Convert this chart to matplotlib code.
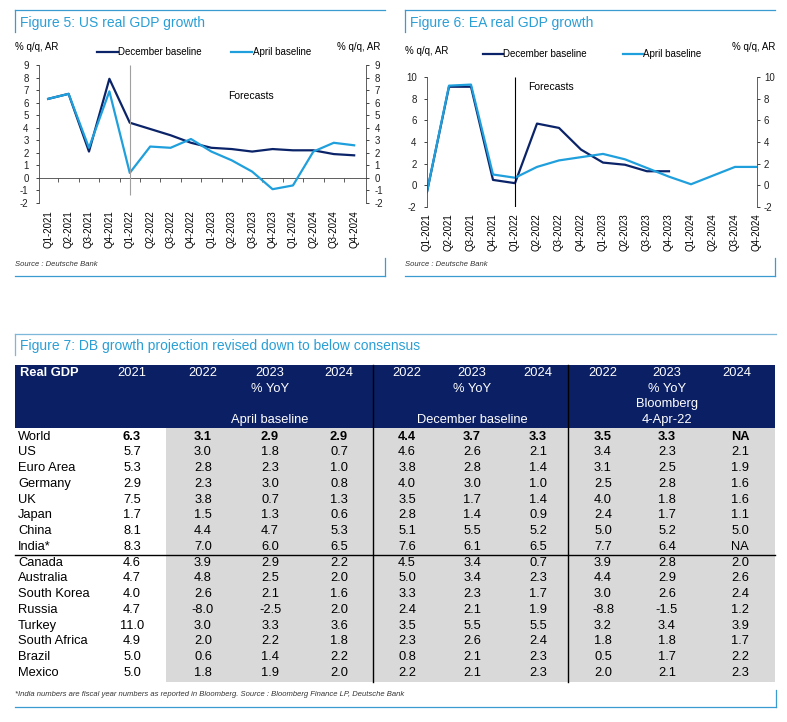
import numpy as np
import matplotlib
matplotlib.use('Agg')
import matplotlib.pyplot as plt
from matplotlib.patches import Rectangle
from matplotlib.lines import Line2D

plt.rcParams['font.family'] = ['Liberation Sans', 'DejaVu Sans']
plt.rcParams['axes.unicode_minus'] = False

# --- chart data ---
quarters = [f'Q{q}-{y}' for y in (2021, 2022, 2023, 2024) for q in (1, 2, 3, 4)]
us_dec = [6.3, 6.7, 2.1, 7.9, 4.4, 3.9, 3.4, 2.8, 2.4, 2.3, 2.1, 2.3, 2.2, 2.2, 1.9, 1.8]
us_apr = [6.3, 6.7, 2.4, 6.9, 0.4, 2.5, 2.4, 3.1, 2.1, 1.4, 0.5, -0.9, -0.6, 2.1, 2.8, 2.6]
ea_dec = [-0.6, 9.1, 9.1, 0.5, 0.2, 5.7, 5.3, 3.3, 2.1, 1.9, 1.3, 1.3,
          np.nan, np.nan, np.nan, np.nan]
ea_apr = [-0.6, 9.2, 9.3, 1.0, 0.7, 1.7, 2.3, 2.6, 2.9, 2.4, 1.6, 0.8, 0.1, 0.9, 1.7, 1.7]
forecast_start = 'Q1-2022'

# --- table data ---
countries = ['World', 'US', 'Euro Area', 'Germany', 'UK', 'Japan', 'China', 'India*',
             'Canada', 'Australia', 'South Korea', 'Russia', 'Turkey', 'South Africa',
             'Brazil', 'Mexico']
gdp_2021 = [6.3, 5.7, 5.3, 2.9, 7.5, 1.7, 8.1, 8.3, 4.6, 4.7, 4.0, 4.7, 11.0, 4.9, 5.0, 5.0]
april = [[3.1, 2.9, 2.9], [3.0, 1.8, 0.7], [2.8, 2.3, 1.0], [2.3, 3.0, 0.8],
         [3.8, 0.7, 1.3], [1.5, 1.3, 0.6], [4.4, 4.7, 5.3], [7.0, 6.0, 6.5],
         [3.9, 2.9, 2.2], [4.8, 2.5, 2.0], [2.6, 2.1, 1.6], [-8.0, -2.5, 2.0],
         [3.0, 3.3, 3.6], [2.0, 2.2, 1.8], [0.6, 1.4, 2.2], [1.8, 1.9, 2.0]]
december = [[4.4, 3.7, 3.3], [4.6, 2.6, 2.1], [3.8, 2.8, 1.4], [4.0, 3.0, 1.0],
            [3.5, 1.7, 1.4], [2.8, 1.4, 0.9], [5.1, 5.5, 5.2], [7.6, 6.1, 6.5],
            [4.5, 3.4, 0.7], [5.0, 3.4, 2.3], [3.3, 2.3, 1.7], [2.4, 2.1, 1.9],
            [3.5, 5.5, 5.5], [2.3, 2.6, 2.4], [0.8, 2.1, 2.3], [2.2, 2.1, 2.3]]
bloomberg = [[3.5, 3.3, None], [3.4, 2.3, 2.1], [3.1, 2.5, 1.9], [2.5, 2.8, 1.6],
             [4.0, 1.8, 1.6], [2.4, 1.7, 1.1], [5.0, 5.2, 5.0], [7.7, 6.4, None],
             [3.9, 2.8, 2.0], [4.4, 2.9, 2.6], [3.0, 2.6, 2.4], [-8.8, -1.5, 1.2],
             [3.2, 3.4, 3.9], [1.8, 1.8, 1.7], [0.5, 1.7, 2.2], [2.0, 2.1, 2.3]]
years = ['2022', '2023', '2024']

NAVY = '#0b2469'
LIGHT = '#1f9fdc'
TITLE = '#2a9fd6'
FRAME = '#3a9bd0'
HEADER = '#0b1f64'
GREY = '#d9d9d9'

W, H = 787, 722
fig = plt.figure(figsize=(W / 100, H / 100), dpi=100)

# overlay in pixel coords for frames, titles and the table
ov = fig.add_axes([0, 0, 1, 1])
ov.set_xlim(0, W)
ov.set_ylim(H, 0)
ov.axis('off')


def box(left, top, right, bottom):
    return [left / W, 1 - bottom / H, (right - left) / W, (bottom - top) / H]


def frame(x0, x1, top, bottom, lead=22, tail=18, top_color=FRAME):
    ov.plot([x0, x1], [top, top], color=top_color, lw=0.9)
    ov.plot([x0, x0], [top, top + lead], color=top_color, lw=0.9)
    ov.plot([x0, x1], [bottom, bottom], color=FRAME, lw=0.9)
    ov.plot([x1, x1], [bottom - tail, bottom], color=FRAME, lw=0.9)


def line_chart(rect, xlim, ylim, yticks, dec, apr, lpad, rpad, xpad):
    ax = fig.add_axes(rect)
    x = np.arange(len(quarters))
    ax.plot(x, dec, color=NAVY, lw=1.6)
    ax.plot(x, apr, color=LIGHT, lw=1.6)
    ax.set_xlim(*xlim)
    ax.set_ylim(*ylim)
    ax.set_yticks(yticks)
    ax.set_xticks(x)
    ax.set_xticklabels(quarters, rotation=90)
    ax.tick_params(axis='x', length=0, labelsize=7, pad=xpad)
    ax.tick_params(axis='y', direction='out', length=2.5, width=0.6, labelsize=7,
                   pad=lpad, colors='#222222')
    for s in ('top', 'bottom', 'right'):
        ax.spines[s].set_visible(False)
    ax.spines['left'].set_linewidth(0.6)
    ax.spines['left'].set_color('#444444')
    ax.patch.set_alpha(0)
    ax2 = ax.twinx()
    ax2.set_ylim(*ylim)
    ax2.set_yticks(yticks)
    ax2.tick_params(axis='y', direction='out', length=2.5, width=0.6, labelsize=7,
                    pad=rpad, colors='#222222')
    for s in ('top', 'bottom', 'left'):
        ax2.spines[s].set_visible(False)
    ax2.spines['right'].set_linewidth(0.6)
    ax2.spines['right'].set_color('#444444')
    return ax


fi = quarters.index(forecast_start)

# ---------------- Figure 5 ----------------
frame(15, 385, 10, 276)
ov.text(20, 23, 'Figure 5: US real GDP growth', color=TITLE, fontsize=10, va='center')
ax_us = line_chart(box(39, 65, 366, 203), (-0.45, 15.58), (-2, 9), range(-2, 10),
                   us_dec, us_apr, 5, 3.5, 5)
zero = ax_us.secondary_xaxis((0 - -2) / 11)
zero.set_xticks(np.arange(0.5, 15, 1))
zero.set_xticklabels([])
zero.tick_params(direction='out', length=3, width=0.6, color='#444444')
zero.spines['bottom'].set_linewidth(0.6)
zero.spines['bottom'].set_color('#444444')
ax_us.vlines(fi, -1.4, 9, color='#a0a0a0', lw=0.8)
ax_us.text(8.8, 6.5, 'Forecasts', fontsize=7.5, va='center')
ov.text(15, 47, '% q/q, AR', fontsize=7, va='center')
ov.text(380, 47, '% q/q, AR', fontsize=7, va='center', ha='right')
ov.text(15, 264, 'Source : Deutsche Bank', fontsize=5.5, style='italic',
        color='#333333', va='center')
handles = [Line2D([], [], color=NAVY, lw=1.6, label='December baseline'),
           Line2D([], [], color=LIGHT, lw=1.6, label='April baseline')]
fig.legend(handles=handles, loc='center left', bbox_to_anchor=(97 / W, 1 - 52 / H),
           ncol=2, frameon=False, fontsize=7, handlelength=2.15, handletextpad=0.05,
           columnspacing=3.0, borderpad=0, borderaxespad=0)

# ---------------- Figure 6 ----------------
frame(405, 775, 10, 276)
ov.text(410, 23, 'Figure 6: EA real GDP growth', color=TITLE, fontsize=10, va='center')
ax_ea = line_chart(box(427, 77, 757, 207), (0, 15), (-2, 10), range(-2, 11, 2),
                   ea_dec, ea_apr, 5, 2.5, 4.3)
ax_ea.vlines(fi, -2, 10, color='black', lw=0.8)
ax_ea.text(4.6, 9.1, 'Forecasts', fontsize=7.5, va='center')
ov.text(405, 51, '% q/q, AR', fontsize=7, va='center')
ov.text(775, 47, '% q/q, AR', fontsize=7, va='center', ha='right')
ov.text(405, 264, 'Source : Deutsche Bank', fontsize=5.5, style='italic',
        color='#333333', va='center')
fig.legend(handles=handles, loc='center left', bbox_to_anchor=(483 / W, 1 - 54 / H),
           ncol=2, frameon=False, fontsize=7, handlelength=2.05, handletextpad=0.05,
           columnspacing=3.7, borderpad=0, borderaxespad=0)

# ---------------- Figure 7 (table) ----------------
frame(15, 776, 334, 707, lead=21, tail=17, top_color='#7db7da')
ov.text(20, 346, 'Figure 7: DB growth projection revised down to below consensus',
        color=TITLE, fontsize=10, va='center')

tbl_l, tbl_r = 15, 775
head_top, head_bot = 365, 428
row0, row_h = 437, 15.75
tbl_bot = row0 + (len(countries) - 0.5) * row_h + 1
ov.add_patch(Rectangle((tbl_l, head_top), tbl_r - tbl_l, head_bot - head_top,
                       color=HEADER, lw=0))
ov.add_patch(Rectangle((166, head_bot), tbl_r - 166, tbl_bot - head_bot,
                       color=GREY, lw=0))
for xd in (373, 568):
    ov.plot([xd, xd], [head_top, tbl_bot], color='black', lw=1)
ov.plot([tbl_l, tbl_r], [row0 + 7.5 * row_h] * 2, color='black', lw=1)

fs = 9.3
VA = 'center_baseline'
dy = -1.8  # center_baseline sits a little low; nudge text up
groups = [(april, [203, 270, 339], 'April baseline', []),
          (december, [407, 472, 538], 'December baseline', []),
          (bloomberg, [603, 667, 740], '4-Apr-22', ['Bloomberg'])]

ov.text(20, 373 + dy, 'Real GDP', color='white', fontsize=fs, fontweight='bold', va=VA)
ov.text(132, 373 + dy, '2021', color='white', fontsize=fs, va=VA, ha='center')
for vals, xs, base, extra in groups:
    for yr, xc in zip(years, xs):
        ov.text(xc if yr != '2024' or base != '4-Apr-22' else 737, 373 + dy, yr,
                color='white', fontsize=fs, va=VA, ha='center')
    ov.text(xs[1], 389 + dy, '% YoY', color='white', fontsize=fs, va=VA, ha='center')
    for e in extra:
        ov.text(xs[1], 404 + dy, e, color='white', fontsize=fs, va=VA, ha='center')
    ov.text(xs[1], 420 + dy, base, color='white', fontsize=fs, va=VA, ha='center')


def fmt(v):
    return 'NA' if v is None else f'{v:.1f}'


for i, c in enumerate(countries):
    y = row0 + i * row_h + dy
    w = 'bold' if c == 'World' else 'normal'
    ov.text(18, y, c, fontsize=fs, va=VA)
    ov.text(132, y, fmt(gdp_2021[i]), fontsize=fs, va=VA, ha='center', fontweight=w)
    for vals, xs, _, _ in groups:
        for v, xc in zip(vals[i], xs):
            ov.text(xc, y, fmt(v), fontsize=fs, va=VA, ha='center', fontweight=w)

ov.text(15, 695, '*India numbers are fiscal year numbers as reported in Bloomberg. '
        'Source : Bloomberg Finance LP, Deutsche Bank', fontsize=5.5, style='italic',
        color='#333333', va='center')

fig.savefig('out.png', dpi=100)
